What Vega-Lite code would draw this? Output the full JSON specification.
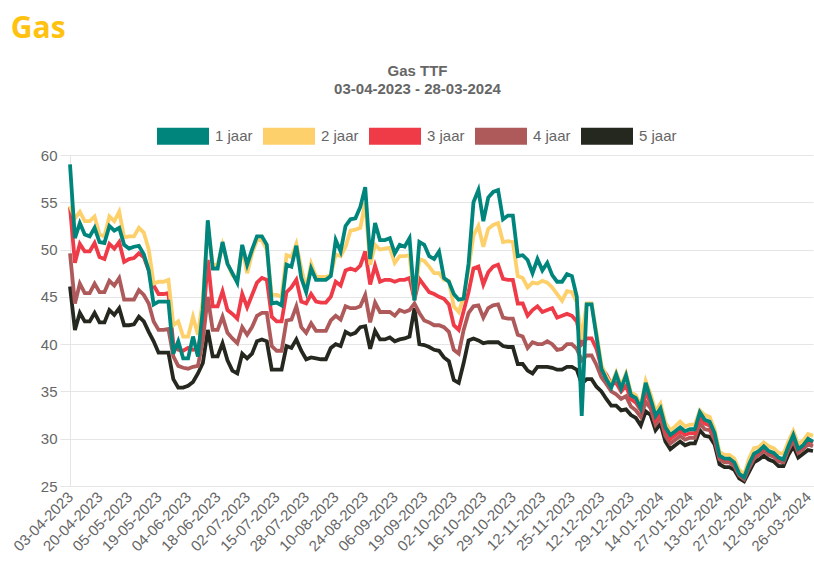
{
"$schema":"https://vega.github.io/schema/vega-lite/v6.json",
"background":"white",
"padding":{"left":10,"top":14,"right":0,"bottom":0},
"autosize":{"type":"pad"},
"title":{"text":"Gas","anchor":"start","fontSize":30,"font":"Open Sans","fontWeight":"bold","color":"#FFC20E","offset":20},
"datasets":{"gas":[
{"d":"2023-04-03","1 jaar":59.0,"2 jaar":54.6,"3 jaar":54.5,"4 jaar":49.6,"5 jaar":46.1},
{"d":"2023-04-05","1 jaar":51.2,"2 jaar":53.3,"3 jaar":48.6,"4 jaar":44.3,"5 jaar":41.5},
{"d":"2023-04-07","1 jaar":52.8,"2 jaar":54.0,"3 jaar":50.6,"4 jaar":46.4,"5 jaar":43.3},
{"d":"2023-04-12","1 jaar":51.6,"2 jaar":53.0,"3 jaar":49.8,"4 jaar":45.4,"5 jaar":42.4},
{"d":"2023-04-14","1 jaar":51.4,"2 jaar":53.0,"3 jaar":49.8,"4 jaar":45.4,"5 jaar":42.4},
{"d":"2023-04-18","1 jaar":52.3,"2 jaar":53.5,"3 jaar":50.7,"4 jaar":46.4,"5 jaar":43.3},
{"d":"2023-04-20","1 jaar":50.8,"2 jaar":51.6,"3 jaar":49.2,"4 jaar":45.5,"5 jaar":42.3},
{"d":"2023-04-24","1 jaar":50.7,"2 jaar":51.4,"3 jaar":49.0,"4 jaar":45.5,"5 jaar":42.3},
{"d":"2023-04-26","1 jaar":52.5,"2 jaar":53.5,"3 jaar":50.6,"4 jaar":46.7,"5 jaar":43.6},
{"d":"2023-04-28","1 jaar":52.0,"2 jaar":53.0,"3 jaar":50.1,"4 jaar":46.2,"5 jaar":43.1},
{"d":"2023-05-01","1 jaar":52.3,"2 jaar":54.0,"3 jaar":50.8,"4 jaar":47.0,"5 jaar":43.8},
{"d":"2023-05-03","1 jaar":50.5,"2 jaar":51.3,"3 jaar":48.7,"4 jaar":44.7,"5 jaar":42.0},
{"d":"2023-05-05","1 jaar":50.1,"2 jaar":51.4,"3 jaar":49.0,"4 jaar":44.7,"5 jaar":42.0},
{"d":"2023-05-08","1 jaar":50.3,"2 jaar":51.4,"3 jaar":49.1,"4 jaar":44.7,"5 jaar":42.1},
{"d":"2023-05-10","1 jaar":50.4,"2 jaar":52.3,"3 jaar":49.6,"4 jaar":45.7,"5 jaar":42.9},
{"d":"2023-05-12","1 jaar":49.5,"2 jaar":51.8,"3 jaar":49.2,"4 jaar":45.2,"5 jaar":42.4},
{"d":"2023-05-15","1 jaar":47.8,"2 jaar":50.0,"3 jaar":47.8,"4 jaar":44.3,"5 jaar":41.3},
{"d":"2023-05-17","1 jaar":44.2,"2 jaar":46.4,"3 jaar":46.2,"4 jaar":42.4,"5 jaar":40.3},
{"d":"2023-05-19","1 jaar":44.5,"2 jaar":46.6,"3 jaar":45.3,"4 jaar":41.5,"5 jaar":39.1},
{"d":"2023-05-22","1 jaar":44.5,"2 jaar":46.6,"3 jaar":45.3,"4 jaar":41.5,"5 jaar":39.1},
{"d":"2023-05-24","1 jaar":44.5,"2 jaar":46.8,"3 jaar":45.4,"4 jaar":41.6,"5 jaar":39.1},
{"d":"2023-05-26","1 jaar":39.0,"2 jaar":42.0,"3 jaar":40.0,"4 jaar":38.7,"5 jaar":36.3},
{"d":"2023-05-30","1 jaar":40.3,"2 jaar":42.4,"3 jaar":39.4,"4 jaar":37.7,"5 jaar":35.4},
{"d":"2023-06-01","1 jaar":38.5,"2 jaar":40.8,"3 jaar":39.3,"4 jaar":37.5,"5 jaar":35.4},
{"d":"2023-06-04","1 jaar":38.5,"2 jaar":40.8,"3 jaar":39.6,"4 jaar":37.4,"5 jaar":35.6},
{"d":"2023-06-06","1 jaar":40.8,"2 jaar":42.9,"3 jaar":39.4,"4 jaar":37.6,"5 jaar":36.0},
{"d":"2023-06-08","1 jaar":38.7,"2 jaar":41.0,"3 jaar":39.5,"4 jaar":37.7,"5 jaar":36.9},
{"d":"2023-06-11","1 jaar":43.7,"2 jaar":44.7,"3 jaar":42.0,"4 jaar":40.4,"5 jaar":38.0},
{"d":"2023-06-13","1 jaar":53.1,"2 jaar":52.5,"3 jaar":48.9,"4 jaar":45.0,"5 jaar":41.5},
{"d":"2023-06-15","1 jaar":48.0,"2 jaar":48.4,"3 jaar":44.0,"4 jaar":41.5,"5 jaar":38.7},
{"d":"2023-06-18","1 jaar":48.0,"2 jaar":48.4,"3 jaar":44.0,"4 jaar":41.5,"5 jaar":38.7},
{"d":"2023-06-20","1 jaar":50.8,"2 jaar":50.5,"3 jaar":45.6,"4 jaar":42.9,"5 jaar":40.1},
{"d":"2023-06-22","1 jaar":48.5,"2 jaar":48.6,"3 jaar":43.6,"4 jaar":41.2,"5 jaar":38.3},
{"d":"2023-06-25","1 jaar":47.5,"2 jaar":47.3,"3 jaar":43.2,"4 jaar":40.6,"5 jaar":37.2},
{"d":"2023-06-27","1 jaar":46.5,"2 jaar":46.8,"3 jaar":42.7,"4 jaar":40.1,"5 jaar":36.9},
{"d":"2023-06-29","1 jaar":50.5,"2 jaar":50.3,"3 jaar":45.3,"4 jaar":41.8,"5 jaar":39.0},
{"d":"2023-07-02","1 jaar":48.4,"2 jaar":47.5,"3 jaar":43.9,"4 jaar":41.0,"5 jaar":38.5},
{"d":"2023-07-04","1 jaar":50.0,"2 jaar":49.6,"3 jaar":45.2,"4 jaar":41.8,"5 jaar":39.0},
{"d":"2023-07-06","1 jaar":51.4,"2 jaar":51.0,"3 jaar":46.5,"4 jaar":43.0,"5 jaar":40.3},
{"d":"2023-07-09","1 jaar":51.4,"2 jaar":51.0,"3 jaar":47.0,"4 jaar":43.3,"5 jaar":40.5},
{"d":"2023-07-11","1 jaar":50.5,"2 jaar":50.0,"3 jaar":46.8,"4 jaar":43.3,"5 jaar":40.3},
{"d":"2023-07-13","1 jaar":44.3,"2 jaar":45.2,"3 jaar":42.9,"4 jaar":39.8,"5 jaar":37.3},
{"d":"2023-07-15","1 jaar":44.4,"2 jaar":45.2,"3 jaar":42.4,"4 jaar":39.3,"5 jaar":37.3},
{"d":"2023-07-17","1 jaar":44.1,"2 jaar":45.0,"3 jaar":42.4,"4 jaar":39.3,"5 jaar":37.3},
{"d":"2023-07-19","1 jaar":48.4,"2 jaar":49.4,"3 jaar":45.5,"4 jaar":42.5,"5 jaar":39.8},
{"d":"2023-07-21","1 jaar":48.2,"2 jaar":49.2,"3 jaar":46.0,"4 jaar":42.6,"5 jaar":39.6},
{"d":"2023-07-24","1 jaar":50.4,"2 jaar":50.6,"3 jaar":46.8,"4 jaar":44.0,"5 jaar":40.5},
{"d":"2023-07-26","1 jaar":47.0,"2 jaar":48.0,"3 jaar":44.5,"4 jaar":41.8,"5 jaar":39.3},
{"d":"2023-07-28","1 jaar":45.5,"2 jaar":45.8,"3 jaar":44.3,"4 jaar":41.2,"5 jaar":38.4},
{"d":"2023-07-31","1 jaar":48.0,"2 jaar":48.5,"3 jaar":45.3,"4 jaar":42.2,"5 jaar":38.6},
{"d":"2023-08-02","1 jaar":46.8,"2 jaar":47.1,"3 jaar":44.5,"4 jaar":41.4,"5 jaar":38.5},
{"d":"2023-08-04","1 jaar":46.8,"2 jaar":47.1,"3 jaar":44.4,"4 jaar":41.4,"5 jaar":38.4},
{"d":"2023-08-06","1 jaar":46.8,"2 jaar":47.1,"3 jaar":44.4,"4 jaar":41.4,"5 jaar":38.4},
{"d":"2023-08-08","1 jaar":47.2,"2 jaar":47.3,"3 jaar":45.0,"4 jaar":42.5,"5 jaar":39.6},
{"d":"2023-08-10","1 jaar":51.0,"2 jaar":49.5,"3 jaar":46.6,"4 jaar":43.0,"5 jaar":40.0},
{"d":"2023-08-13","1 jaar":49.8,"2 jaar":49.3,"3 jaar":46.2,"4 jaar":42.6,"5 jaar":39.8},
{"d":"2023-08-15","1 jaar":52.5,"2 jaar":50.3,"3 jaar":47.8,"4 jaar":44.0,"5 jaar":41.3},
{"d":"2023-08-17","1 jaar":53.2,"2 jaar":52.0,"3 jaar":48.0,"4 jaar":43.8,"5 jaar":41.0},
{"d":"2023-08-20","1 jaar":53.3,"2 jaar":52.1,"3 jaar":47.8,"4 jaar":43.8,"5 jaar":41.2},
{"d":"2023-08-22","1 jaar":54.5,"2 jaar":52.3,"3 jaar":48.3,"4 jaar":44.0,"5 jaar":41.8},
{"d":"2023-08-24","1 jaar":56.6,"2 jaar":55.0,"3 jaar":49.8,"4 jaar":45.2,"5 jaar":41.9},
{"d":"2023-08-27","1 jaar":49.0,"2 jaar":48.4,"3 jaar":46.3,"4 jaar":42.3,"5 jaar":39.5},
{"d":"2023-08-29","1 jaar":52.8,"2 jaar":50.5,"3 jaar":48.3,"4 jaar":44.4,"5 jaar":41.4},
{"d":"2023-08-31","1 jaar":51.0,"2 jaar":50.0,"3 jaar":46.6,"4 jaar":43.4,"5 jaar":40.5},
{"d":"2023-09-02","1 jaar":51.0,"2 jaar":50.1,"3 jaar":46.8,"4 jaar":43.4,"5 jaar":40.5},
{"d":"2023-09-04","1 jaar":51.2,"2 jaar":50.2,"3 jaar":46.8,"4 jaar":43.4,"5 jaar":40.7},
{"d":"2023-09-06","1 jaar":49.6,"2 jaar":48.6,"3 jaar":46.6,"4 jaar":43.0,"5 jaar":40.3},
{"d":"2023-09-08","1 jaar":50.5,"2 jaar":49.3,"3 jaar":46.8,"4 jaar":43.6,"5 jaar":40.5},
{"d":"2023-09-10","1 jaar":50.3,"2 jaar":49.3,"3 jaar":46.8,"4 jaar":43.4,"5 jaar":40.6},
{"d":"2023-09-12","1 jaar":51.2,"2 jaar":49.4,"3 jaar":47.0,"4 jaar":43.6,"5 jaar":40.8},
{"d":"2023-09-14","1 jaar":44.6,"2 jaar":44.8,"3 jaar":44.7,"4 jaar":44.3,"5 jaar":43.8},
{"d":"2023-09-17","1 jaar":50.8,"2 jaar":49.0,"3 jaar":46.9,"4 jaar":43.3,"5 jaar":40.0},
{"d":"2023-09-19","1 jaar":50.5,"2 jaar":48.8,"3 jaar":46.2,"4 jaar":42.5,"5 jaar":39.9},
{"d":"2023-09-21","1 jaar":49.3,"2 jaar":48.2,"3 jaar":45.5,"4 jaar":42.3,"5 jaar":39.7},
{"d":"2023-09-23","1 jaar":49.0,"2 jaar":47.5,"3 jaar":45.3,"4 jaar":42.0,"5 jaar":39.4},
{"d":"2023-09-26","1 jaar":49.8,"2 jaar":47.5,"3 jaar":45.0,"4 jaar":42.0,"5 jaar":39.3},
{"d":"2023-09-28","1 jaar":47.0,"2 jaar":46.8,"3 jaar":44.8,"4 jaar":41.8,"5 jaar":38.6},
{"d":"2023-09-30","1 jaar":46.6,"2 jaar":46.7,"3 jaar":44.2,"4 jaar":41.3,"5 jaar":38.2},
{"d":"2023-10-02","1 jaar":45.3,"2 jaar":44.0,"3 jaar":42.0,"4 jaar":39.4,"5 jaar":36.2},
{"d":"2023-10-04","1 jaar":44.7,"2 jaar":43.4,"3 jaar":41.5,"4 jaar":39.0,"5 jaar":35.9},
{"d":"2023-10-06","1 jaar":44.8,"2 jaar":45.0,"3 jaar":43.5,"4 jaar":41.5,"5 jaar":38.0},
{"d":"2023-10-09","1 jaar":48.5,"2 jaar":48.0,"3 jaar":45.5,"4 jaar":43.3,"5 jaar":40.4},
{"d":"2023-10-11","1 jaar":55.0,"2 jaar":51.5,"3 jaar":48.0,"4 jaar":44.0,"5 jaar":40.6},
{"d":"2023-10-13","1 jaar":56.3,"2 jaar":52.5,"3 jaar":48.2,"4 jaar":44.1,"5 jaar":40.4},
{"d":"2023-10-16","1 jaar":53.0,"2 jaar":50.3,"3 jaar":46.3,"4 jaar":42.8,"5 jaar":40.1},
{"d":"2023-10-18","1 jaar":55.5,"2 jaar":52.2,"3 jaar":47.6,"4 jaar":43.8,"5 jaar":40.2},
{"d":"2023-10-20","1 jaar":56.1,"2 jaar":52.6,"3 jaar":48.2,"4 jaar":44.1,"5 jaar":40.2},
{"d":"2023-10-23","1 jaar":56.3,"2 jaar":52.8,"3 jaar":48.4,"4 jaar":44.2,"5 jaar":40.2},
{"d":"2023-10-25","1 jaar":53.2,"2 jaar":50.8,"3 jaar":46.9,"4 jaar":42.8,"5 jaar":39.8},
{"d":"2023-10-27","1 jaar":53.6,"2 jaar":50.9,"3 jaar":46.8,"4 jaar":42.7,"5 jaar":39.7},
{"d":"2023-10-29","1 jaar":53.6,"2 jaar":50.8,"3 jaar":46.8,"4 jaar":42.7,"5 jaar":39.7},
{"d":"2023-10-31","1 jaar":49.3,"2 jaar":47.2,"3 jaar":44.3,"4 jaar":41.0,"5 jaar":37.9},
{"d":"2023-11-02","1 jaar":49.4,"2 jaar":47.0,"3 jaar":44.3,"4 jaar":40.8,"5 jaar":37.9},
{"d":"2023-11-05","1 jaar":48.9,"2 jaar":46.0,"3 jaar":43.0,"4 jaar":39.6,"5 jaar":37.2},
{"d":"2023-11-07","1 jaar":47.5,"2 jaar":46.5,"3 jaar":43.6,"4 jaar":40.2,"5 jaar":36.9},
{"d":"2023-11-09","1 jaar":49.0,"2 jaar":46.4,"3 jaar":44.0,"4 jaar":40.0,"5 jaar":37.6},
{"d":"2023-11-12","1 jaar":47.8,"2 jaar":46.7,"3 jaar":43.4,"4 jaar":40.0,"5 jaar":37.6},
{"d":"2023-11-14","1 jaar":48.6,"2 jaar":46.5,"3 jaar":43.6,"4 jaar":40.3,"5 jaar":37.6},
{"d":"2023-11-16","1 jaar":47.3,"2 jaar":46.0,"3 jaar":43.8,"4 jaar":40.0,"5 jaar":37.5},
{"d":"2023-11-19","1 jaar":46.6,"2 jaar":45.3,"3 jaar":42.8,"4 jaar":39.4,"5 jaar":37.3},
{"d":"2023-11-21","1 jaar":46.6,"2 jaar":44.6,"3 jaar":43.0,"4 jaar":39.5,"5 jaar":37.3},
{"d":"2023-11-23","1 jaar":47.4,"2 jaar":45.6,"3 jaar":43.2,"4 jaar":40.0,"5 jaar":37.6},
{"d":"2023-11-25","1 jaar":47.2,"2 jaar":45.5,"3 jaar":43.0,"4 jaar":40.0,"5 jaar":37.6},
{"d":"2023-11-28","1 jaar":45.0,"2 jaar":44.4,"3 jaar":42.4,"4 jaar":39.5,"5 jaar":37.3},
{"d":"2023-11-30","1 jaar":32.4,"2 jaar":40.5,"3 jaar":40.0,"4 jaar":38.3,"5 jaar":35.8},
{"d":"2023-12-03","1 jaar":44.2,"2 jaar":44.3,"3 jaar":40.6,"4 jaar":38.8,"5 jaar":36.3},
{"d":"2023-12-05","1 jaar":44.2,"2 jaar":44.3,"3 jaar":40.6,"4 jaar":38.8,"5 jaar":36.3},
{"d":"2023-12-08","1 jaar":40.8,"2 jaar":41.2,"3 jaar":39.5,"4 jaar":37.8,"5 jaar":35.5},
{"d":"2023-12-12","1 jaar":37.4,"2 jaar":37.8,"3 jaar":37.5,"4 jaar":36.5,"5 jaar":35.0},
{"d":"2023-12-14","1 jaar":36.3,"2 jaar":36.6,"3 jaar":36.8,"4 jaar":35.8,"5 jaar":34.2},
{"d":"2023-12-17","1 jaar":35.4,"2 jaar":35.7,"3 jaar":35.8,"4 jaar":35.0,"5 jaar":33.5},
{"d":"2023-12-20","1 jaar":36.8,"2 jaar":37.0,"3 jaar":35.9,"4 jaar":34.7,"5 jaar":33.5},
{"d":"2023-12-23","1 jaar":35.3,"2 jaar":35.6,"3 jaar":35.0,"4 jaar":34.2,"5 jaar":33.0},
{"d":"2023-12-26","1 jaar":36.7,"2 jaar":36.9,"3 jaar":35.6,"4 jaar":34.5,"5 jaar":33.1},
{"d":"2023-12-29","1 jaar":34.6,"2 jaar":34.9,"3 jaar":34.2,"4 jaar":33.4,"5 jaar":32.5},
{"d":"2024-01-01","1 jaar":34.3,"2 jaar":34.6,"3 jaar":33.8,"4 jaar":33.0,"5 jaar":32.2},
{"d":"2024-01-04","1 jaar":33.2,"2 jaar":33.5,"3 jaar":33.0,"4 jaar":32.3,"5 jaar":31.4},
{"d":"2024-01-07","1 jaar":35.9,"2 jaar":36.1,"3 jaar":34.8,"4 jaar":33.9,"5 jaar":32.9},
{"d":"2024-01-09","1 jaar":34.2,"2 jaar":34.7,"3 jaar":33.8,"4 jaar":33.2,"5 jaar":32.5},
{"d":"2024-01-11","1 jaar":32.4,"2 jaar":32.9,"3 jaar":32.0,"4 jaar":31.5,"5 jaar":30.9},
{"d":"2024-01-14","1 jaar":33.2,"2 jaar":33.7,"3 jaar":32.7,"4 jaar":32.2,"5 jaar":31.6},
{"d":"2024-01-16","1 jaar":31.2,"2 jaar":31.7,"3 jaar":30.8,"4 jaar":30.3,"5 jaar":29.7},
{"d":"2024-01-18","1 jaar":30.4,"2 jaar":30.9,"3 jaar":30.0,"4 jaar":29.5,"5 jaar":28.9},
{"d":"2024-01-20","1 jaar":30.8,"2 jaar":31.3,"3 jaar":30.4,"4 jaar":29.9,"5 jaar":29.3},
{"d":"2024-01-23","1 jaar":31.2,"2 jaar":31.8,"3 jaar":30.8,"4 jaar":30.3,"5 jaar":29.7},
{"d":"2024-01-25","1 jaar":30.8,"2 jaar":31.3,"3 jaar":30.4,"4 jaar":29.9,"5 jaar":29.3},
{"d":"2024-01-27","1 jaar":31.0,"2 jaar":31.5,"3 jaar":30.6,"4 jaar":30.1,"5 jaar":29.5},
{"d":"2024-01-30","1 jaar":31.0,"2 jaar":31.5,"3 jaar":30.6,"4 jaar":30.1,"5 jaar":29.5},
{"d":"2024-02-01","1 jaar":32.8,"2 jaar":33.0,"3 jaar":32.2,"4 jaar":31.6,"5 jaar":30.9},
{"d":"2024-02-04","1 jaar":32.0,"2 jaar":32.5,"3 jaar":31.6,"4 jaar":31.0,"5 jaar":30.3},
{"d":"2024-02-07","1 jaar":31.8,"2 jaar":32.3,"3 jaar":31.4,"4 jaar":30.9,"5 jaar":30.2},
{"d":"2024-02-10","1 jaar":30.6,"2 jaar":31.0,"3 jaar":30.3,"4 jaar":29.9,"5 jaar":29.4},
{"d":"2024-02-13","1 jaar":28.2,"2 jaar":28.6,"3 jaar":28.1,"4 jaar":27.8,"5 jaar":27.3},
{"d":"2024-02-15","1 jaar":27.9,"2 jaar":28.3,"3 jaar":27.8,"4 jaar":27.5,"5 jaar":27.0},
{"d":"2024-02-17","1 jaar":27.9,"2 jaar":28.3,"3 jaar":27.8,"4 jaar":27.5,"5 jaar":27.0},
{"d":"2024-02-20","1 jaar":27.5,"2 jaar":27.9,"3 jaar":27.4,"4 jaar":27.1,"5 jaar":26.7},
{"d":"2024-02-22","1 jaar":26.3,"2 jaar":26.7,"3 jaar":26.3,"4 jaar":26.1,"5 jaar":25.8},
{"d":"2024-02-25","1 jaar":25.9,"2 jaar":26.2,"3 jaar":25.9,"4 jaar":25.7,"5 jaar":25.5},
{"d":"2024-02-27","1 jaar":27.3,"2 jaar":27.9,"3 jaar":27.2,"4 jaar":26.9,"5 jaar":26.5},
{"d":"2024-02-29","1 jaar":28.4,"2 jaar":29.0,"3 jaar":28.2,"4 jaar":27.9,"5 jaar":27.5},
{"d":"2024-03-02","1 jaar":28.7,"2 jaar":29.1,"3 jaar":28.6,"4 jaar":28.3,"5 jaar":27.8},
{"d":"2024-03-05","1 jaar":29.2,"2 jaar":29.6,"3 jaar":29.0,"4 jaar":28.7,"5 jaar":28.2},
{"d":"2024-03-07","1 jaar":28.7,"2 jaar":29.2,"3 jaar":28.6,"4 jaar":28.3,"5 jaar":27.8},
{"d":"2024-03-10","1 jaar":28.5,"2 jaar":29.0,"3 jaar":28.4,"4 jaar":28.1,"5 jaar":27.6},
{"d":"2024-03-12","1 jaar":28.0,"2 jaar":28.5,"3 jaar":27.9,"4 jaar":27.6,"5 jaar":27.1},
{"d":"2024-03-14","1 jaar":27.8,"2 jaar":28.4,"3 jaar":27.8,"4 jaar":27.5,"5 jaar":27.1},
{"d":"2024-03-16","1 jaar":29.2,"2 jaar":29.7,"3 jaar":29.1,"4 jaar":28.8,"5 jaar":28.3},
{"d":"2024-03-19","1 jaar":30.4,"2 jaar":30.8,"3 jaar":30.2,"4 jaar":29.8,"5 jaar":29.2},
{"d":"2024-03-21","1 jaar":28.9,"2 jaar":29.4,"3 jaar":28.8,"4 jaar":28.5,"5 jaar":28.0},
{"d":"2024-03-24","1 jaar":29.3,"2 jaar":29.8,"3 jaar":29.2,"4 jaar":28.9,"5 jaar":28.4},
{"d":"2024-03-26","1 jaar":30.0,"2 jaar":30.5,"3 jaar":29.8,"4 jaar":29.4,"5 jaar":28.8},
{"d":"2024-03-28","1 jaar":29.7,"2 jaar":30.3,"3 jaar":29.6,"4 jaar":29.2,"5 jaar":28.7}
]},
"vconcat":[{
"width":743,"height":331,
"title":{"text":"Gas TTF","subtitle":"03-04-2023 - 28-03-2024","anchor":"middle","dx":-24,"font":"Liberation Sans","fontSize":15,"fontWeight":"bold","color":"#666666","subtitleFont":"Liberation Sans","subtitleFontSize":15,"subtitleFontWeight":"bold","subtitleColor":"#666666","subtitlePadding":3,"offset":51},
"data":{"name":"gas"},
"encoding":{
"x":{"field":"d","type":"ordinal","scale":{"type":"point","padding":0},"axis":{"values":["2023-04-03","2023-04-20","2023-05-05","2023-05-19","2023-06-04","2023-06-18","2023-07-02","2023-07-15","2023-07-28","2023-08-10","2023-08-24","2023-09-06","2023-09-19","2023-10-02","2023-10-16","2023-10-29","2023-11-12","2023-11-25","2023-12-12","2023-12-29","2024-01-14","2024-01-27","2024-02-13","2024-02-27","2024-03-12","2024-03-26"],"labelExpr":"slice(datum.value,8,10)+'-'+slice(datum.value,5,7)+'-'+slice(datum.value,0,4)","labelAngle":-45,"labelAlign":"right","labelBaseline":"middle","labelFont":"Liberation Sans","labelFontSize":15,"labelColor":"#666666","ticks":false,"labelPadding":8,"grid":false,"domainColor":"#e5e5e5","title":null,"labelOverlap":false,"labelBound":false}},
"y":{"field":"val","type":"quantitative","scale":{"domain":[25,60],"nice":false,"zero":false},"axis":{"values":[25,30,35,40,45,50,55,60],"title":null,"labelFont":"Liberation Sans","labelFontSize":15,"labelColor":"#666666","tickSize":10,"tickColor":"#e5e5e5","gridColor":"#e5e5e5","domainColor":"#e5e5e5","labelPadding":3}},
"color":{"field":"serie","type":"nominal","scale":{"domain":["1 jaar","2 jaar","3 jaar","4 jaar","5 jaar"],"range":["#00857D","#FDD06B","#EF3A47","#AE5A5B","#25281F"]},"legend":{"orient":"none","legendX":87,"legendY":-45,"direction":"horizontal","columns":5,"title":null,"padding":0,"symbolType":"M-1,-0.33H1V0.33H-1Z","symbolSize":2704,"symbolStrokeWidth":0,"labelFont":"Liberation Sans","labelFontSize":15,"labelColor":"#666666","labelOffset":6,"columnPadding":10,"encode":{"symbols":{"update":{"fill":{"scale":"color","field":"value"},"fillOpacity":{"value":1}}}}}}
},
"layer":[
{"transform":[{"fold":["5 jaar"],"as":["serie","val"]}],"mark":{"type":"line","strokeWidth":3.8}},
{"transform":[{"fold":["4 jaar"],"as":["serie","val"]}],"mark":{"type":"line","strokeWidth":3.8}},
{"transform":[{"fold":["3 jaar"],"as":["serie","val"]}],"mark":{"type":"line","strokeWidth":3.8}},
{"transform":[{"fold":["2 jaar"],"as":["serie","val"]}],"mark":{"type":"line","strokeWidth":3.8}},
{"transform":[{"fold":["1 jaar"],"as":["serie","val"]}],"mark":{"type":"line","strokeWidth":3.8}}
]
}],
"config":{"view":{"stroke":null},"font":"Liberation Sans"}
}
